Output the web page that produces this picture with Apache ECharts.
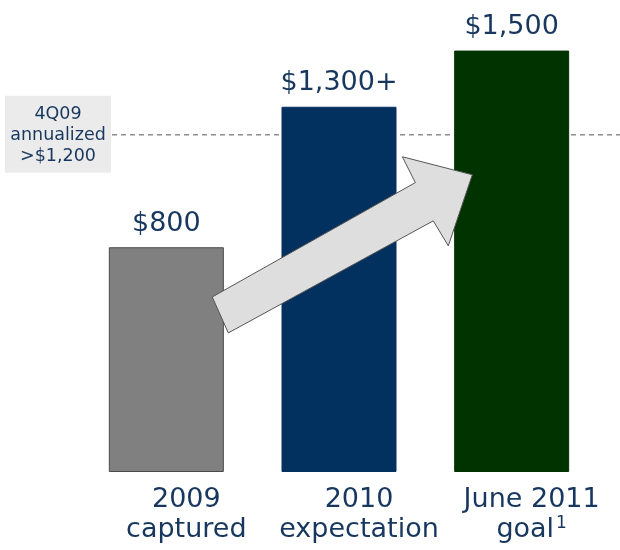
<!DOCTYPE html>
<html><head><meta charset="utf-8">
<script src="https://cdn.jsdelivr.net/npm/echarts@6/dist/echarts.min.js"></script>
<style>html,body{margin:0;padding:0;background:#fff}#c{width:620px;height:550px}</style>
</head><body><div id="c"></div>
<script>
var categories = ['2009\ncaptured', '2010\nexpectation', 'June 2011\ngoal'];
var footnotes = ['', '', '1'];
var values = [800, 1300, 1500];
var valueLabels = ['$800', '$1,300+', '$1,500'];
var barColors = ['#808080', '#02305F', '#013300'];
var refValue = 1200;
var refLabel = ['4Q09', 'annualized', '>$1,200'];
// arrow annotation in data space: [category position, value]
var arrowPts = [[0.359,495],[0.266,623],[1.442,1030],[1.367,1122],[1.772,1058],[1.633,805],[1.546,894]];

var TXT = '#17375E';
var FONT = '"DejaVu Sans", Verdana, sans-serif';
var chart = echarts.init(document.getElementById('c'));
chart.setOption({
  animation: false,
  grid: {left: 80, right: 22, top: 0, bottom: 78},
  xAxis: {
    type: 'category', data: categories,
    axisLine: {show: false}, axisTick: {show: false},
    axisLabel: {
      interval: 0, hideOverlap: false,
      margin: 13, color: TXT, fontFamily: FONT, fontSize: 27, lineHeight: 30,
      padding: [0, 0, 0, 40],
      formatter: function (v, i) { return footnotes[i] ? v + '{sup|' + footnotes[i] + '}' : v; },
      rich: {sup: {fontSize: 17, verticalAlign: 'top', color: TXT, fontFamily: FONT, padding: [0,0,14,2]}}
    }
  },
  yAxis: {type: 'value', min: 0, max: 1680, show: false, splitLine: {show: false}},
  series: [{
    type: 'bar', barWidth: 115,
    data: values.map(function (v, i) {
      return {value: v, itemStyle: {color: barColors[i], borderColor: i === 0 ? '#4a4a4a' : barColors[i], borderWidth: 1}};
    }),
    label: {
      show: true, position: 'top', distance: 10, color: TXT, fontFamily: FONT, fontSize: 27,
      formatter: function (p) { return valueLabels[p.dataIndex]; }
    }
  }]
});

function draw() {
  var c0 = chart.convertToPixel({xAxisIndex: 0}, 0);
  var c1 = chart.convertToPixel({xAxisIndex: 0}, 1);
  var step = c1 - c0;
  var ry = chart.convertToPixel({yAxisIndex: 0}, refValue);
  var pts = arrowPts.map(function (p) {
    return [c0 + p[0] * step, chart.convertToPixel({yAxisIndex: 0}, p[1])];
  });
  chart.setOption({graphic: [
    {type: 'line', z: 0, shape: {x1: 112, y1: ry, x2: 620, y2: ry},
     style: {stroke: '#555', lineWidth: 1, lineDash: [5, 4]}},
    {type: 'rect', z: 5, shape: {x: 5, y: ry - 39, width: 106, height: 77},
     style: {fill: '#EBEBEB'}},
    {type: 'text', z: 6, x: 58, y: ry - 31,
     style: {text: refLabel.join('\n'), fill: TXT, font: '17.5px ' + FONT, lineHeight: 21, align: 'center', verticalAlign: 'top'}},
    {type: 'polygon', z: 10, shape: {points: pts},
     style: {fill: '#DEDEDE', stroke: '#555', lineWidth: 1}}
  ]});
}
draw();
</script></body></html>
